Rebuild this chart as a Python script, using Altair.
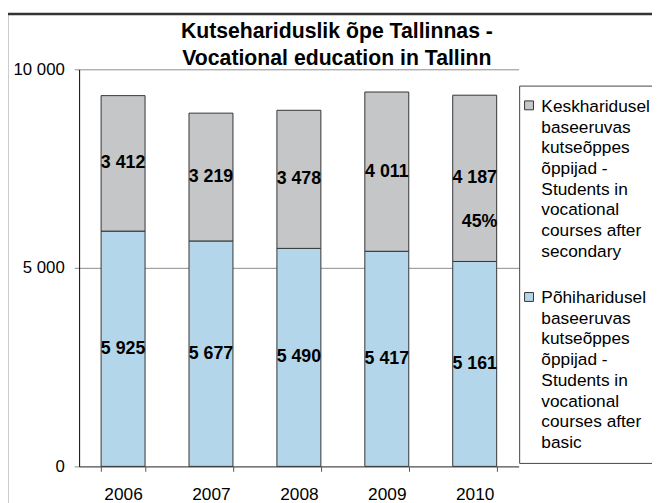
import altair as alt
import pandas as pd

FONT = "Liberation Sans"

years = ["2006", "2007", "2008", "2009", "2010"]
basic = [5925, 5677, 5490, 5417, 5161]
secondary = [3412, 3219, 3478, 4011, 4187]
pct_labels = ["", "", "", "", "45%"]
y_ticks = [0, 5000, 10000]

title_lines = ["Kutsehariduslik õpe Tallinnas -", "Vocational education in Tallinn"]
legend_lines_secondary = ["Keskharidusel", "baseeruvas", "kutseõppes", "õppijad -",
                          "Students in", "vocational", "courses after", "secondary"]
legend_lines_basic = ["Põhiharidusel", "baseeruvas", "kutseõppes", "õppijad -",
                      "Students in", "vocational", "courses after", "basic"]
series_secondary = " ".join(legend_lines_secondary)
series_basic = " ".join(legend_lines_basic)

GRAY = "#C5C6C8"
BLUE = "#B4D6EA"


def fmt(v):
    return f"{v:,}".replace(",", " ")


rows = []
for i, yr in enumerate(years):
    rows.append({"year": yr, "series": series_basic, "value": basic[i], "order": 0,
                 "label": fmt(basic[i]), "pct": ""})
    rows.append({"year": yr, "series": series_secondary, "value": secondary[i], "order": 1,
                 "label": fmt(secondary[i]), "pct": pct_labels[i]})
df = pd.DataFrame(rows)

x_scale = alt.Scale(paddingInner=0.5, paddingOuter=0.25)
y_scale = alt.Scale(domain=[0, 10000])

x_axis = alt.Axis(labelAngle=0, tickBand="extent", domainColor="#555555",
                  tickColor="#555555", tickSize=5, labelPadding=15,
                  labelFont=FONT, labelFontSize=17.5, labelColor="black", grid=False)
y_axis = alt.Axis(values=y_ticks,
                  labelExpr="replace(format(datum.value, ','), ',', ' ')",
                  grid=True, gridColor="#8c8c8c", domainColor="black",
                  tickColor="#8c8c8c", tickSize=5, labelPadding=10,
                  labelFont=FONT, labelFontSize=17, labelColor="black")

bars = alt.Chart(df).mark_bar(stroke="#333333", strokeWidth=1).encode(
    x=alt.X("year:N", title=None, scale=x_scale, sort=years, axis=x_axis),
    y=alt.Y("value:Q", stack="zero", scale=y_scale, title=None, axis=y_axis),
    color=alt.Color("series:N",
                    scale=alt.Scale(domain=[series_secondary, series_basic], range=[GRAY, BLUE]),
                    legend=None),
    order=alt.Order("order:Q", sort="ascending"),
)

stacked = alt.Chart(df).transform_stack(
    stack="value", groupby=["year"], as_=["y0", "y1"],
    sort=[alt.SortField("order", order="ascending")]
).transform_calculate(mid="(datum.y0 + datum.y1) / 2")

labels = stacked.mark_text(font=FONT, fontSize=18, fontWeight="bold", color="black").encode(
    x=alt.X("year:N", title=None, scale=x_scale, sort=years, axis=x_axis),
    y=alt.Y("mid:Q", title=None, scale=y_scale, axis=y_axis),
    text="label:N",
)

pct = stacked.transform_filter("datum.pct != ''").mark_text(
    font=FONT, fontSize=18, fontWeight="bold", color="black", dx=5, dy=44).encode(
    x=alt.X("year:N", title=None, scale=x_scale, sort=years, axis=x_axis),
    y=alt.Y("mid:Q", title=None, scale=y_scale, axis=y_axis),
    text="pct:N",
)

one = pd.DataFrame({"k": [0]})

outer = alt.Chart(one).mark_rect(fillOpacity=0, stroke="#333333", strokeWidth=2.5).encode(
    x=alt.value(-73), x2=alt.value(700), y=alt.value(-56), y2=alt.value(600))

legend_box = alt.Chart(one).mark_rect(fill="white", stroke="#444444", strokeWidth=1).encode(
    x=alt.value(446), x2=alt.value(700), y=alt.value(17), y2=alt.value(399))

sq1 = alt.Chart(one).mark_rect(fill=GRAY, stroke="#333333", strokeWidth=1).encode(
    x=alt.value(451), x2=alt.value(460), y=alt.value(32), y2=alt.value(41))
sq2 = alt.Chart(one).mark_rect(fill=BLUE, stroke="#333333", strokeWidth=1).encode(
    x=alt.value(451), x2=alt.value(460), y=alt.value(226), y2=alt.value(235))

txt1 = alt.Chart(one).mark_text(text=legend_lines_secondary, font=FONT, fontSize=17.5,
                                lineHeight=21, align="left", baseline="alphabetic",
                                color="black").encode(x=alt.value(468), y=alt.value(43))
txt2 = alt.Chart(one).mark_text(text=legend_lines_basic, font=FONT, fontSize=17.5,
                                lineHeight=21, align="left", baseline="alphabetic",
                                color="black").encode(x=alt.value(468), y=alt.value(236.5))

chart = alt.layer(outer, legend_box, sq1, sq2, txt1, txt2, bars, labels, pct).properties(
    width=445, height=402,
    padding={"left": 72, "top": 59, "right": 135, "bottom": 34},
    autosize=alt.AutoSizeParams(type="none"),
    title=alt.TitleParams(text=title_lines, font=FONT, fontSize=21.5, fontWeight="bold",
                          anchor="middle", dx=38.5, dy=57.5, offset=0, color="black",
                          lineHeight=27),
).configure_view(strokeWidth=0)

chart.save("out.html", embed_options={"renderer": "svg", "actions": False})
